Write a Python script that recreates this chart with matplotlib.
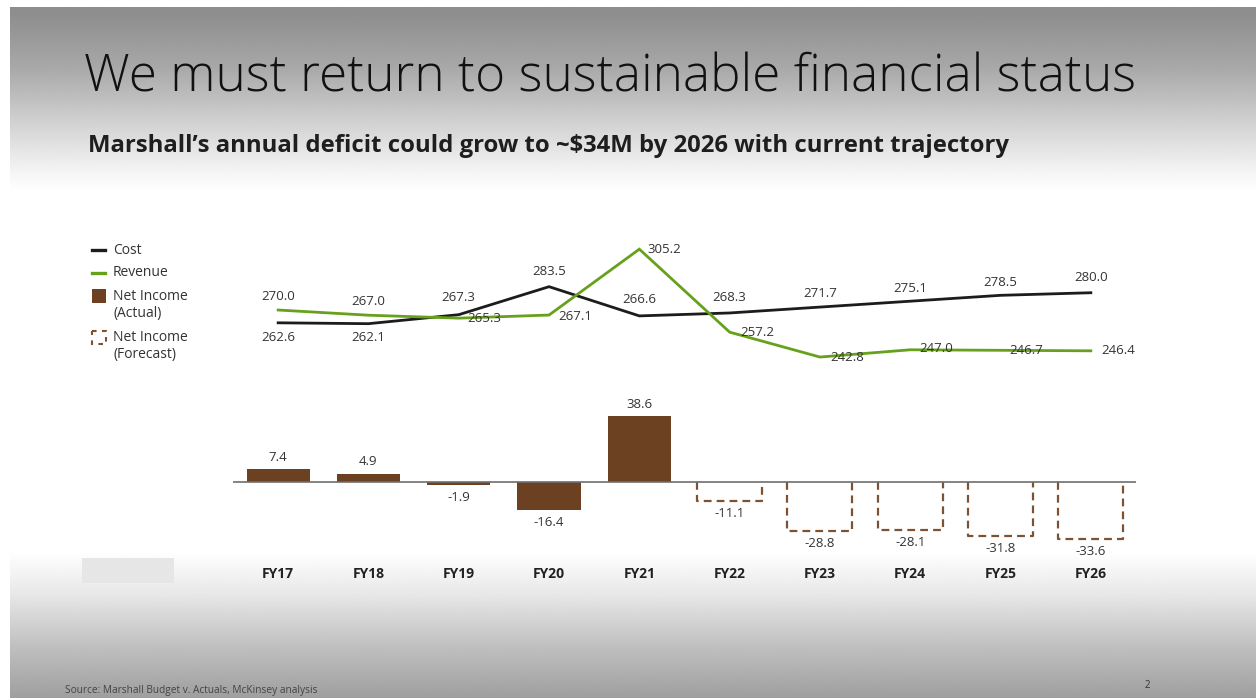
import numpy as np
import matplotlib
matplotlib.use("Agg")
import matplotlib.pyplot as plt
from matplotlib.patches import Rectangle
from matplotlib.lines import Line2D

# data
years = ["FY17", "FY18", "FY19", "FY20", "FY21", "FY22", "FY23", "FY24", "FY25", "FY26"]
cost = [262.6, 262.1, 267.3, 283.5, 266.6, 268.3, 271.7, 275.1, 278.5, 280.0]
revenue = [270.0, 267.0, 265.3, 267.1, 305.2, 257.2, 242.8, 247.0, 246.7, 246.4]
net_income = [7.4, 4.9, -1.9, -16.4, 38.6, -11.1, -28.8, -28.1, -31.8, -33.6]
n_actual = 5  # FY17-FY21 actual, FY22-FY26 forecast

# label nudges in screen pixels (dx, dy with dy measured downwards), style only
cost_lab = [(0, 15), (0, 14), (0, -17), (0, -15), (0, -16), (0, -15), (0, -14), (0, -13), (0, -13), (0, -15)]
rev_lab = [(0, -14), (0, -14), (9, 0), (9, 1), (8, 0), (11, 0), (10, 0), (9, -1), (9, 0), (10, 0)]

BROWN = "#6b4122"
BROWN_DASH = "#7d5232"
GREEN = "#67a11c"
BLACK = "#1c1c1c"
TXT = "#333333"

plt.rcParams['font.family'] = ['Open Sans', 'DejaVu Sans']

W, H = 1256, 698
fig = plt.figure(figsize=(W / 100, H / 100), dpi=100)

# background (slide with grey gradient), pixel coordinates from top-left
bg = fig.add_axes([0, 0, 1, 1])
bg.set_xlim(0, W)
bg.set_ylim(H, 0)
bg.axis('off')
rows = np.arange(H)
shade = np.interp(rows, [7, 60, 120, 165, 185, 550, 595, 645, 698],
                  [142, 168, 212, 244, 255, 255, 230, 192, 158])
grad = np.repeat(shade[:, None], 2, axis=1) / 255
bg.imshow(grad, cmap='gray', vmin=0, vmax=1, extent=(10, W, H, 7),
          aspect='auto', interpolation='bilinear')
bg.add_patch(Rectangle((82, 558), 92, 25, color="#e6e6e6", lw=0))

renderer = fig.canvas.get_renderer()


def fit_text(x, y, s, width, **kw):
    t = bg.text(x, y, s, **kw)
    w = t.get_window_extent(renderer).width
    t.set_fontsize(t.get_fontsize() * width / w)
    return t


fit_text(84, 91, "We must return to sustainable financial status", 1048,
         fontsize=40, weight='light', color="#111111", va='baseline')
fit_text(88, 152, "Marshall\u2019s annual deficit could grow to ~$34M by 2026 with current trajectory", 921,
         fontsize=16, weight='bold', color="#1e1e1e", va='baseline')
fit_text(65, 693, "Source: Marshall Budget v. Actuals, McKinsey analysis", 255,
         fontsize=7, color="#444444", va='baseline')
bg.text(1147, 688, "2", fontsize=7, color="#333333", ha='center', va='baseline')

# legend drawn by hand
bg.add_line(Line2D([92, 105], [250, 250], color=BLACK, lw=2.4))
bg.text(113, 250, "Cost", fontsize=10, color=TXT, va='center')
bg.add_line(Line2D([92, 105], [273, 273], color=GREEN, lw=2.4))
bg.text(113, 273, "Revenue", fontsize=10, color=TXT, va='center')
bg.add_patch(Rectangle((92, 289), 14, 14, color=BROWN, lw=0))
bg.text(113, 289, "Net Income\n(Actual)", fontsize=10, color=TXT, va='top', linespacing=1.15)
bg.add_patch(Rectangle((92, 331), 14, 13, fill=False, ec=BROWN_DASH, lw=1.5, ls=(0, (2.2, 2.6))))
bg.text(113, 330, "Net Income\n(Forecast)", fontsize=10, color=TXT, va='top', linespacing=1.15)


def px_axes(left, top, right, bottom):
    return fig.add_axes([left / W, 1 - bottom / H, (right - left) / W, (bottom - top) / H])


x = np.arange(len(years))

# lines: cost and revenue
ax1 = px_axes(233, 240, 1136, 365)
ax1.patch.set_alpha(0)
ax1.set_xlim(-0.5, 9.5)
ax1.set_ylim(238.2, 310.5)
ax1.axis('off')
ax1.plot(x, cost, color=BLACK, lw=2.0, solid_joinstyle='miter')
ax1.plot(x, revenue, color=GREEN, lw=2.0, solid_joinstyle='miter')
for i in range(len(years)):
    dx, dy = cost_lab[i]
    ax1.annotate(f"{cost[i]:.1f}", (x[i], cost[i]), xytext=(dx, -dy), textcoords='offset pixels',
                 ha='center', va='center', fontsize=9.5, color=TXT)
    dx, dy = rev_lab[i]
    ax1.annotate(f"{revenue[i]:.1f}", (x[i], revenue[i]), xytext=(dx, -dy), textcoords='offset pixels',
                 ha='center' if dx == 0 else 'left', va='center', fontsize=9.5, color=TXT)

# bars: net income
ax2 = px_axes(233, 395, 1136, 560)
ax2.patch.set_alpha(0)
ax2.set_xlim(-0.5, 9.5)
ax2.set_ylim(-45.6, 50.9)
for s in ax2.spines.values():
    s.set_visible(False)
ax2.set_yticks([])
ax2.bar(x[:n_actual], net_income[:n_actual], width=0.7, color=BROWN, zorder=2)
wf = 0.72
for i in range(n_actual, len(years)):
    v = net_income[i]
    ax2.plot([x[i] - wf / 2, x[i] - wf / 2, x[i] + wf / 2, x[i] + wf / 2], [0, v, v, 0],
             color=BROWN_DASH, lw=1.6, ls=(0, (3.5, 2.3)), zorder=2)
ax2.axhline(0, color="#6e6e6e", lw=1.2, zorder=3)
for i, v in enumerate(net_income):
    ax2.annotate(f"{v:.1f}", (x[i], v), xytext=(0, 12 if v > 0 else -12), textcoords='offset pixels',
                 ha='center', va='center', fontsize=9.5, color=TXT)
ax2.set_xticks(x, years)
ax2.tick_params(axis='x', length=0, pad=5, labelsize=10, labelcolor="#222222")
for t in ax2.get_xticklabels():
    t.set_fontweight('bold')

fig.savefig("out.png", dpi=100)
